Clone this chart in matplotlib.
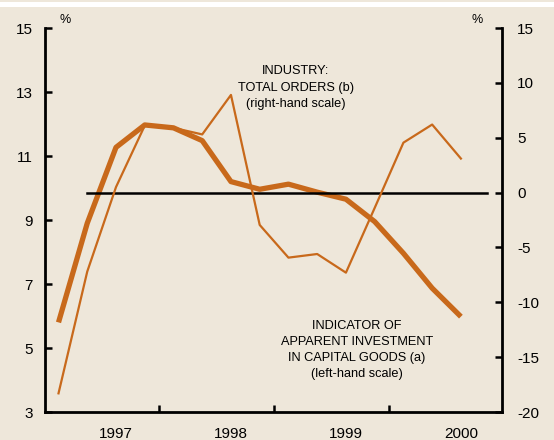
import numpy as np
import matplotlib.pyplot as plt
from matplotlib.patches import Rectangle

# quarterly observations, late 1996 .. 2000
quarters = np.arange(15)
investment = [5.8, 8.9, 11.27, 11.97, 11.88, 11.48, 10.2, 9.96, 10.12, 9.87,
              9.65, 8.95, 7.96, 6.87, 5.98]          # left-hand scale
orders = [-18.3, -7.2, 0.5, 6.1, 5.9, 5.3, 8.9, -2.95, -5.93, -5.6,
          -7.3, -1.4, 4.55, 6.2, 3.1]                 # right-hand scale
year_labels = ['1997', '1998', '1999', '2000']
year_label_pos = [2, 6, 10, 14]
year_breaks = [3.5, 7.5, 11.5]

bg = '#EEE7DA'
orange = '#C8691B'
plt.rcParams['font.family'] = ['Liberation Sans', 'DejaVu Sans']
plt.rcParams['axes.unicode_minus'] = False

fig = plt.figure(figsize=(5.54, 4.40), dpi=100, facecolor=bg)
fig.patches.append(Rectangle((0, 1 - 7 / 440), 1, 5 / 440, transform=fig.transFigure,
                             facecolor='white', edgecolor='none'))
ax = fig.add_axes([45 / 554, 1 - 412 / 440, (502 - 45) / 554, (412 - 28) / 440])
ax.set_facecolor(bg)
ax2 = ax.twinx()

ax.plot(quarters, investment, color=orange, lw=3.8, solid_capstyle='butt', zorder=3)
ax2.plot(quarters, orders, color=orange, lw=1.6, zorder=3)
ax2.plot([1, 14.9], [0, 0], color='black', lw=1.8, zorder=2)

ax.set_xlim(-0.47, 15.43)
ax.set_ylim(3, 15)
ax2.set_ylim(-20, 15)
ax.set_yticks([3, 5, 7, 9, 11, 13, 15])
ax2.set_yticks([-20, -15, -10, -5, 0, 5, 10, 15])

ax.set_xticks(year_breaks)
ax.set_xticklabels([])
ax.set_xticks(year_label_pos, minor=True)
ax.set_xticklabels(year_labels, minor=True)
ax.tick_params(axis='x', which='minor', length=0, pad=11, labelsize=11)
ax.tick_params(axis='x', which='major', direction='in', length=5, width=1.8)
ax.tick_params(axis='y', direction='in', length=5, width=1.8, pad=9, labelsize=11)
ax2.tick_params(axis='y', direction='in', length=5, width=1.8, pad=11, labelsize=11)

for a in (ax, ax2):
    a.spines['top'].set_visible(False)
    for s in ('left', 'right', 'bottom'):
        a.spines[s].set_linewidth(2)
ax.spines['right'].set_visible(False)
ax2.spines['left'].set_visible(False)
ax2.spines['bottom'].set_visible(False)

fig.text(65 / 554, 1 - 20 / 440, '%', ha='center', va='center', fontsize=9)
fig.text(477 / 554, 1 - 20 / 440, '%', ha='center', va='center', fontsize=9)

fig.text(296 / 554, 1 - 88 / 440, 'INDUSTRY:\nTOTAL ORDERS (b)\n(right-hand scale)',
         ha='center', va='center', fontsize=9.2, linespacing=1.5)
fig.text(357 / 554, 1 - 350 / 440,
         'INDICATOR OF\nAPPARENT INVESTMENT\nIN CAPITAL GOODS (a)\n(left-hand scale)',
         ha='center', va='center', fontsize=9.2, linespacing=1.45)

fig.savefig('out.png', dpi=100, facecolor=bg)
